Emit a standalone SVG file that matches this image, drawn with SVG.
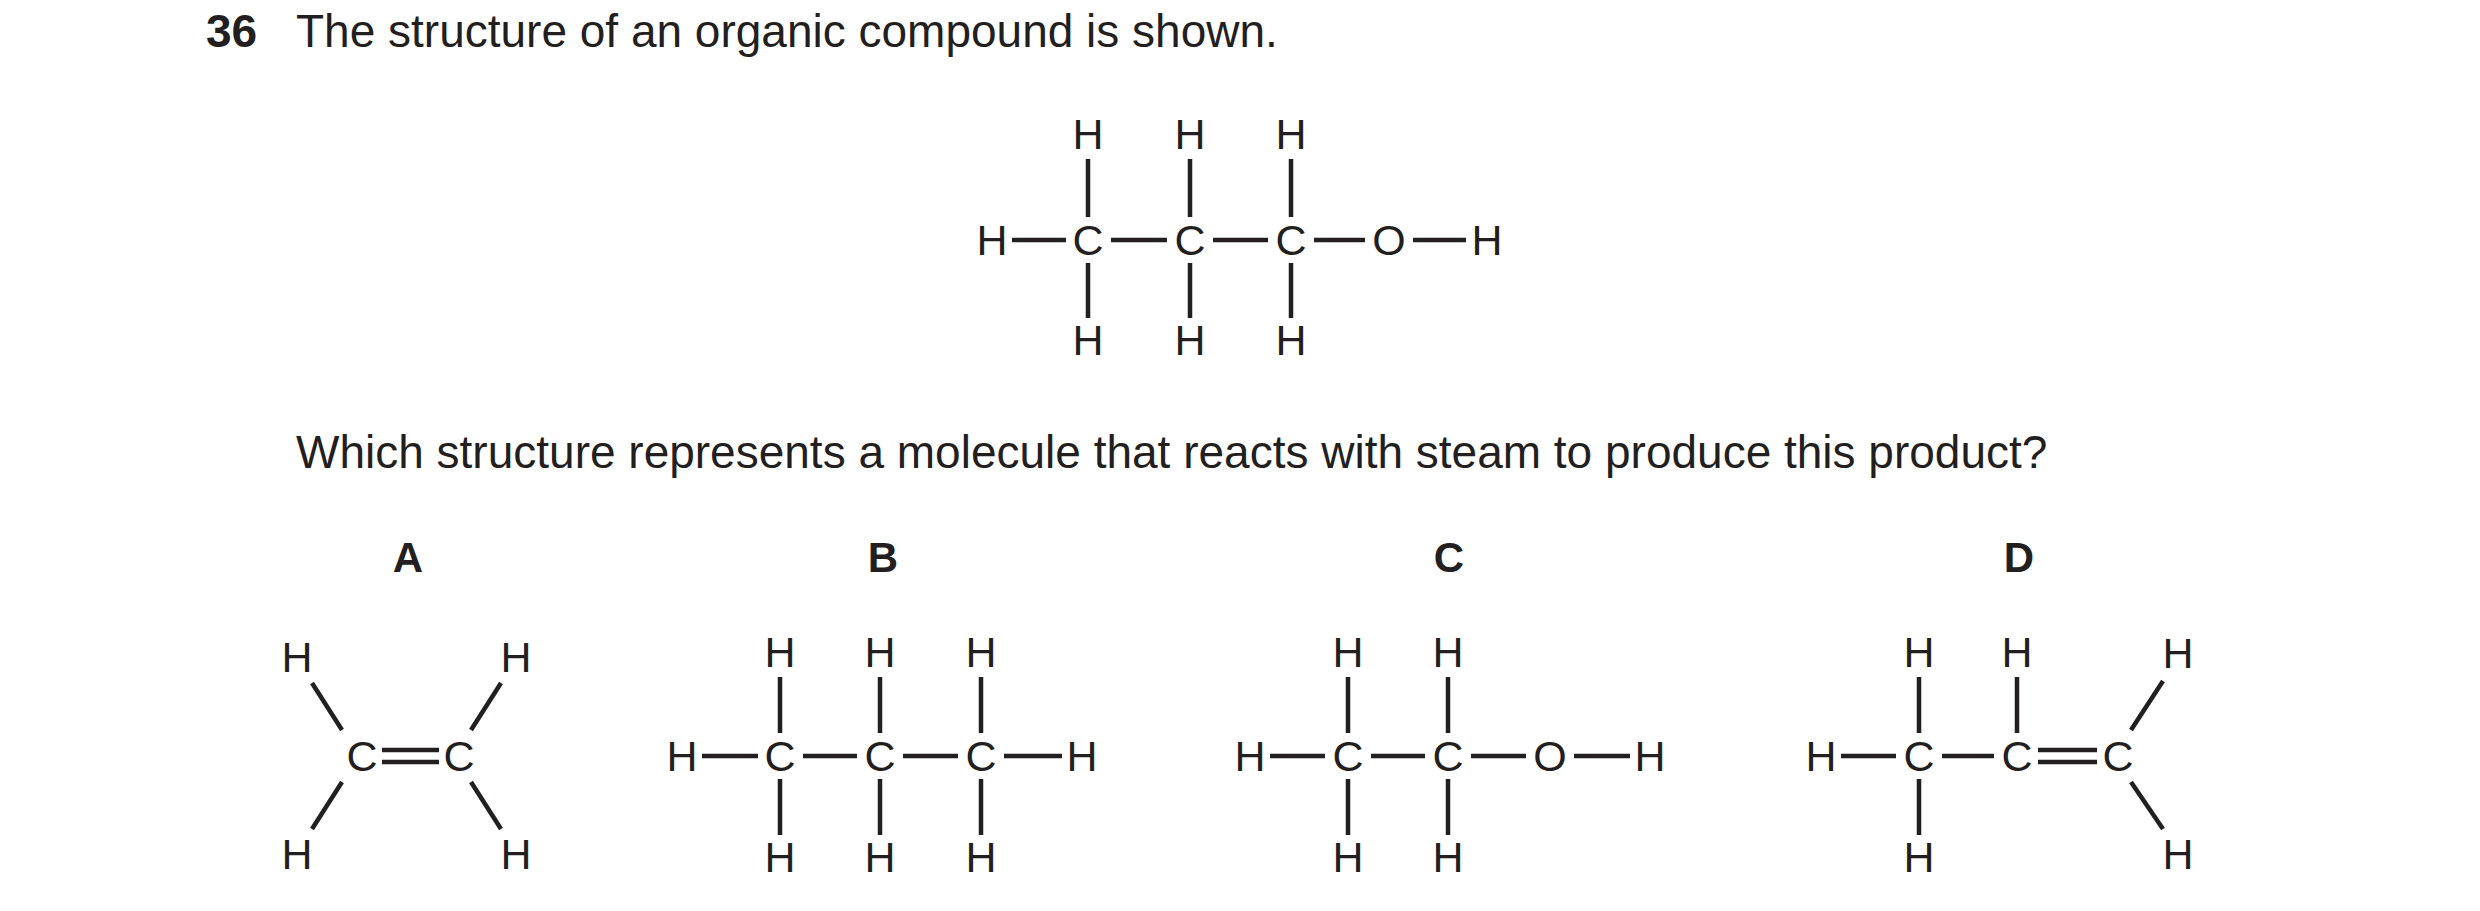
<svg xmlns="http://www.w3.org/2000/svg" width="2480" height="911" viewBox="0 0 2480 911">
<style>
text{font-family:"Liberation Sans",Arial,sans-serif;fill:#231f20}
.q{font-size:46px}
.a{font-size:43px;text-anchor:middle}
.l{font-size:42px;font-weight:bold;text-anchor:middle}
.b line{stroke:#231f20;stroke-width:4.5}
</style>
<rect width="2480" height="911" fill="#fff"/>
<text class="q" x="206" y="47" font-weight="bold">36</text>
<text class="q" x="296" y="47">The structure of an organic compound is shown.</text>
<text class="q" x="296" y="468">Which structure represents a molecule that reacts with steam to produce this product?</text>
<text class="l" x="408" y="572">A</text>
<text class="l" x="883" y="572">B</text>
<text class="l" x="1449" y="572">C</text>
<text class="l" x="2019" y="572">D</text>
<g id="product">
<text class="a" x="992" y="255">H</text><text class="a" x="1088" y="255">C</text><text class="a" x="1190" y="255">C</text><text class="a" x="1291" y="255">C</text><text class="a" x="1389" y="255">O</text><text class="a" x="1487" y="255">H</text>
<text class="a" x="1088" y="149">H</text><text class="a" x="1190" y="149">H</text><text class="a" x="1291" y="149">H</text>
<text class="a" x="1088" y="355">H</text><text class="a" x="1190" y="355">H</text><text class="a" x="1291" y="355">H</text>
</g>
<g id="molA">
<text class="a" x="297" y="672">H</text><text class="a" x="516" y="672">H</text>
<text class="a" x="362" y="771">C</text><text class="a" x="459" y="771">C</text>
<text class="a" x="297" y="869">H</text><text class="a" x="516" y="869">H</text>
</g>
<g id="molB">
<text class="a" x="682" y="771">H</text><text class="a" x="780" y="771">C</text><text class="a" x="880" y="771">C</text><text class="a" x="981" y="771">C</text><text class="a" x="1082" y="771">H</text>
<text class="a" x="780" y="667">H</text><text class="a" x="880" y="667">H</text><text class="a" x="981" y="667">H</text>
<text class="a" x="780" y="872">H</text><text class="a" x="880" y="872">H</text><text class="a" x="981" y="872">H</text>
</g>
<g id="molC">
<text class="a" x="1250" y="771">H</text><text class="a" x="1348" y="771">C</text><text class="a" x="1448" y="771">C</text><text class="a" x="1550" y="771">O</text><text class="a" x="1650" y="771">H</text>
<text class="a" x="1348" y="667">H</text><text class="a" x="1448" y="667">H</text>
<text class="a" x="1348" y="872">H</text><text class="a" x="1448" y="872">H</text>
</g>
<g id="molD">
<text class="a" x="1821" y="771">H</text><text class="a" x="1919" y="771">C</text><text class="a" x="2017" y="771">C</text><text class="a" x="2118" y="771">C</text>
<text class="a" x="1919" y="667">H</text><text class="a" x="2017" y="667">H</text><text class="a" x="2178" y="668">H</text>
<text class="a" x="1919" y="872">H</text><text class="a" x="2178" y="869">H</text>
</g>
<g id="bonds" class="b">
<line x1="1012" y1="240" x2="1066" y2="240"/><line x1="1111" y1="240" x2="1167" y2="240"/><line x1="1213" y1="240" x2="1268" y2="240"/><line x1="1314" y1="240" x2="1365" y2="240"/><line x1="1413" y1="240" x2="1466" y2="240"/>
<line x1="1088" y1="159" x2="1088" y2="217"/><line x1="1190" y1="159" x2="1190" y2="217"/><line x1="1291" y1="159" x2="1291" y2="217"/>
<line x1="1088" y1="263" x2="1088" y2="318"/><line x1="1190" y1="263" x2="1190" y2="318"/><line x1="1291" y1="263" x2="1291" y2="318"/>
<line x1="312" y1="683" x2="342" y2="730"/><line x1="501" y1="683" x2="471" y2="730"/><line x1="312" y1="829" x2="342" y2="782"/><line x1="501" y1="829" x2="471" y2="782"/>
<line x1="382" y1="750" x2="439" y2="750"/><line x1="382" y1="762" x2="439" y2="762"/>
<line x1="702" y1="756" x2="758" y2="756"/><line x1="803" y1="756" x2="857" y2="756"/><line x1="903" y1="756" x2="958" y2="756"/><line x1="1004" y1="756" x2="1062" y2="756"/>
<line x1="780" y1="677" x2="780" y2="733"/><line x1="880" y1="677" x2="880" y2="733"/><line x1="981" y1="677" x2="981" y2="733"/>
<line x1="780" y1="779" x2="780" y2="835"/><line x1="880" y1="779" x2="880" y2="835"/><line x1="981" y1="779" x2="981" y2="835"/>
<line x1="1270" y1="756" x2="1325" y2="756"/><line x1="1371" y1="756" x2="1425" y2="756"/><line x1="1471" y1="756" x2="1526" y2="756"/><line x1="1574" y1="756" x2="1630" y2="756"/>
<line x1="1348" y1="677" x2="1348" y2="733"/><line x1="1448" y1="677" x2="1448" y2="733"/>
<line x1="1348" y1="779" x2="1348" y2="835"/><line x1="1448" y1="779" x2="1448" y2="835"/>
<line x1="1841" y1="756" x2="1896" y2="756"/><line x1="1942" y1="756" x2="1994" y2="756"/>
<line x1="2038" y1="750" x2="2097" y2="750"/><line x1="2038" y1="762" x2="2097" y2="762"/>
<line x1="1919" y1="677" x2="1919" y2="733"/><line x1="2017" y1="677" x2="2017" y2="733"/><line x1="1919" y1="779" x2="1919" y2="835"/>
<line x1="2131" y1="730" x2="2163" y2="681"/><line x1="2131" y1="782" x2="2163" y2="829"/>
</g>
</svg>
